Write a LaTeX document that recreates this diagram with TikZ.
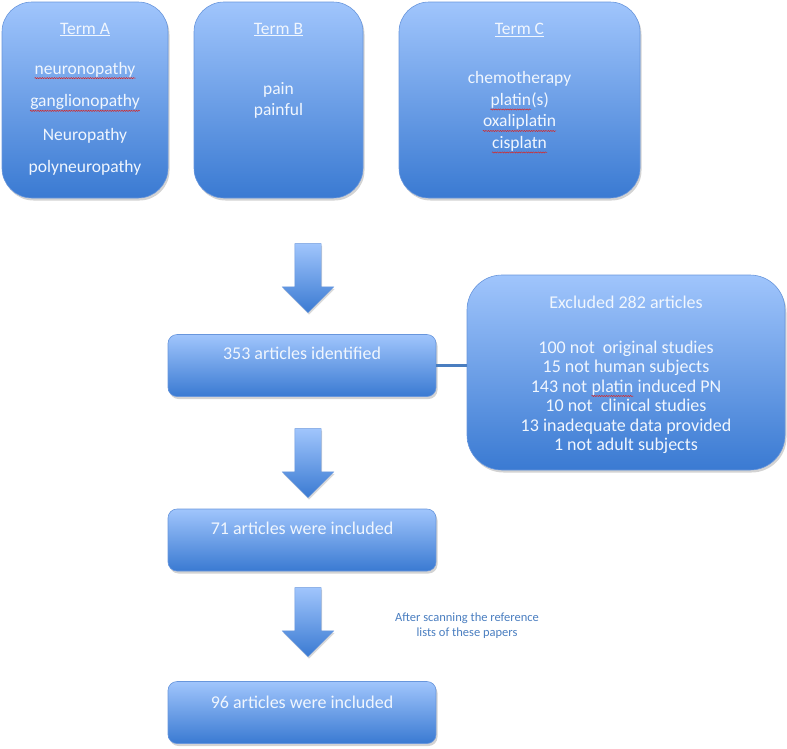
\documentclass[tikz,border=0pt]{standalone}
\usepackage{fontspec}
\setmainfont{Carlito}
\usetikzlibrary{positioning,shapes.arrows,shadows,decorations.pathmorphing}
\definecolor{boxtop}{RGB}{160,197,252}
\definecolor{boxbot}{RGB}{58,122,210}
\definecolor{boxline}{RGB}{104,150,220}
\definecolor{boxtext}{RGB}{240,246,254}
\definecolor{linkblue}{RGB}{74,126,192}
\definecolor{spellred}{RGB}{214,40,40}
\newcommand{\spell}[1]{\tikz[baseline=(w.base),x=1pt,y=1pt]{\node[inner sep=0pt,anchor=base,text=boxtext] (w) {#1};
  \draw[spellred,line width=0.5pt,decorate,decoration={snake,amplitude=0.6pt,segment length=2.4pt}]
    ([yshift=-4pt]w.base west) -- ([yshift=-4pt]w.base east);}}
\newcommand{\ttl}[1]{\underline{#1}}

\begin{document}
\begin{tikzpicture}[x=1pt,y=-1pt,
box/.style={draw=boxline,line width=0.6pt,top color=boxtop,bottom color=boxbot,
  drop shadow={shadow xshift=1.5pt,shadow yshift=-2.5pt,opacity=0.35},inner sep=0pt},
bigbox/.style={box,rounded corners=30pt},
smallbox/.style={box,rounded corners=9pt,minimum width=268pt,minimum height=62pt},
blockarrow/.style={single arrow,shape border rotate=270,draw=boxline,line width=0.4pt,
  top color=boxtop,bottom color=boxbot,minimum height=69pt,minimum width=51pt,
  single arrow head extend=12.5pt,inner sep=13pt,
  drop shadow={shadow xshift=1pt,shadow yshift=-2pt,opacity=0.3}},
txt/.style={text=boxtext,align=center,inner sep=0pt,anchor=north,font=\fontsize{17.5}{21.5}\selectfont},
smalltxt/.style={txt,anchor=base,font=\fontsize{18}{22}\selectfont},
link/.style={draw=linkblue,line width=3pt},
note/.style={text=linkblue,align=center,inner sep=0pt,font=\fontsize{12.5}{15}\selectfont}]
\useasboundingbox (0,0) rectangle (787,748);
% search terms
\node[bigbox,minimum width=166pt,minimum height=196pt] (termA) at (85,100) {};
\node[bigbox,minimum width=169pt,minimum height=196pt] (termB) at (278.5,100) {};
\node[bigbox,minimum width=241pt,minimum height=196pt] (termC) at (519.5,100) {};
\node[txt] (termAtxt) at (85,22.7) {\ttl{Term A}\\[18.5pt] \spell{neuronopathy}\\[11.2pt] \spell{ganglionopathy}\\[11.8pt]
  Neuropathy\\[11.2pt] polyneuropathy};
\node[txt] (termBtxt) at (278.5,22.7) {\ttl{Term B}\\[38.8pt] pain\\ painful};
\node[txt] (termCtxt) at (519.5,22.7) {\ttl{Term C}\\[28.2pt] chemotherapy\\ \spell{platin}(s)\\ \spell{oxaliplatin}\\ \spell{cisplatn}};
% flow
\node[blockarrow] (arrowA) at (308,271.5) {};
\node[smallbox] (ident) at (302,365.5) {};
\node[smalltxt] (identtxt) at (302,359.3) {353 articles identified};
\node[bigbox,rounded corners=35pt,minimum width=318pt,minimum height=195pt] (excl) at (626,372.5) {};
\node[txt,font=\fontsize{18}{19.5}\selectfont] (excltxt) at (626,296) {Excluded 282 articles\\[24.8pt] 100 not\ \ original studies\\ 15 not human\ subjects\\
  143 not \spell{platin} induced PN\\ 10 not\ \ clinical studies\\ 13 inadequate data provided\\ 1 not adult subjects};
\draw[link] (ident.east) -- (ident.east -| excl.west);
\node[blockarrow] (arrowB) at (308,456.5) {};
\node[smallbox] (incl) at (302,540) {};
\node[smalltxt] (incltxt) at (302,534.3) {71 articles were included};
\node[blockarrow] (arrowC) at (308,615.5) {};
\node[note] (scan) at (467,626) {After scanning the reference\\ lists of these papers};
\node[smallbox] (final) at (302,712.5) {};
\node[smalltxt] (finaltxt) at (302,708.3) {96 articles were included};
\end{tikzpicture}
\end{document}
